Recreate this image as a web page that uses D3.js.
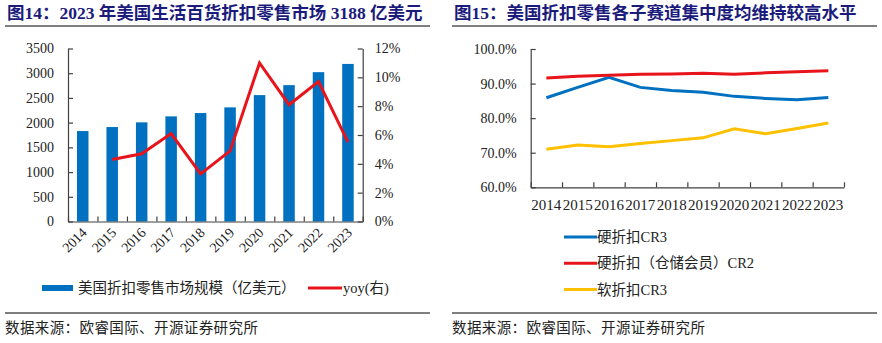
<!DOCTYPE html>
<html>
<head>
<meta charset="utf-8">
<script src="https://cdn.jsdelivr.net/npm/d3@7"></script>
<style>
  html, body { margin: 0; padding: 0; background: #fff; }
  svg { display: block; }
  .num { font-family: "Liberation Serif", "Times New Roman", serif; }
  .cjk { font-family: "Liberation Serif", "Noto Sans CJK SC", serif; }
</style>
</head>
<body>
<svg id="chart" width="882" height="343"></svg>
<script>
// 年份
const years = ['2014', '2015', '2016', '2017', '2018', '2019', '2020', '2021', '2022', '2023'];

// 图14：美国折扣零售市场规模（亿美元）与同比增速（%）
const marketSize = [1830, 1911, 2006, 2127, 2194, 2309, 2557, 2759, 3021, 3188];
const yoy = [null, 4.3, 4.7, 6.1, 3.3, 4.9, 11.0, 8.1, 9.7, 5.5];
const sizeTicks = [0, 500, 1000, 1500, 2000, 2500, 3000, 3500];
const yoyTicks = [0, 2, 4, 6, 8, 10, 12];

// 图15：各子赛道集中度（%）
const hardCR3 = [85.9, 88.9, 91.8, 88.9, 88.0, 87.5, 86.3, 85.7, 85.3, 86.0];
const clubCR2 = [91.6, 92.1, 92.4, 92.7, 92.8, 93.0, 92.7, 93.1, 93.4, 93.7];
const softCR3 = [71.0, 72.2, 71.7, 72.7, 73.5, 74.3, 76.9, 75.5, 77.0, 78.6];
const crTicks = [60, 70, 80, 90, 100];

const BLUE = '#0070c0', RED = '#e8141c', YELLOW = '#ffc000';
const TITLE = '#1b1b7c', AXIS = '#404040';

const svg = d3.select('#chart');

// 标题、分隔线、数据来源
function frame(x0, x1, title) {
  svg.append('text').attr('class', 'cjk').attr('x', x0 + 2).attr('y', 19)
    .attr('font-size', 17.5).attr('font-weight', 'bold').attr('fill', TITLE).text(title);
  svg.append('line').attr('x1', x0).attr('x2', x1).attr('y1', 26).attr('y2', 26)
    .attr('stroke', '#000').attr('stroke-width', 1.2);
  svg.append('line').attr('x1', x0).attr('x2', x1).attr('y1', 313).attr('y2', 313)
    .attr('stroke', '#000').attr('stroke-width', 1.2);
  svg.append('text').attr('class', 'cjk').attr('x', x0).attr('y', 333)
    .attr('font-size', 14.5).attr('letter-spacing', 0.4).attr('fill', '#222')
    .text('数据来源：欧睿国际、开源证券研究所');
}

function styleAxis(g) {
  g.select('.domain').attr('stroke', AXIS).attr('stroke-width', 1.2);
  g.selectAll('.tick line').attr('stroke', AXIS).attr('stroke-width', 1.2);
  g.selectAll('text').attr('class', 'num').attr('font-size', 14).attr('fill', '#222');
}

// ---------- 图14 ----------
frame(5, 430, '图14：2023 年美国生活百货折扣零售市场 3188 亿美元');
{
  const L = 68, R = 362.7, T = 48.5, B = 221.5;

  const x = d3.scaleBand().domain(years).range([L, R]).paddingInner(0.61).paddingOuter(0.305);
  const xc = d3.scaleBand().domain(years).range([L, R]);
  const y = d3.scaleLinear().domain([0, 3500]).range([B, T]);
  const y2 = d3.scaleLinear().domain([0, 12]).range([B, T]);

  svg.selectAll('.bar').data(marketSize).enter().append('rect')
    .attr('x', (d, i) => x(years[i]))
    .attr('y', d => y(d))
    .attr('width', x.bandwidth())
    .attr('height', d => B - y(d))
    .attr('fill', BLUE);

  const line = d3.line()
    .defined(d => d != null)
    .x((d, i) => xc(years[i]) + xc.bandwidth() / 2)
    .y(d => y2(d));
  svg.append('path').datum(yoy).attr('d', line)
    .attr('fill', 'none').attr('stroke', RED).attr('stroke-width', 3)
    .attr('stroke-linejoin', 'miter');

  svg.append('g').attr('transform', `translate(${L},0)`)
    .call(d3.axisLeft(y).tickValues(sizeTicks).tickSize(-5).tickSizeOuter(0).tickPadding(14)
      .tickFormat(d3.format('d')))
    .call(styleAxis);

  svg.append('g').attr('transform', `translate(${R},0)`)
    .call(d3.axisRight(y2).tickValues(yoyTicks).tickSize(-5).tickSizeOuter(0).tickPadding(12)
      .tickFormat(d => d + '%'))
    .call(styleAxis);

  // 底部轴：刻度位于类别分界处
  const xb = d3.scaleLinear().domain([0, years.length]).range([L, R]);
  svg.append('g').attr('transform', `translate(0,${B})`)
    .call(d3.axisBottom(xb).tickValues(d3.range(0, years.length + 1)).tickSize(-5)
      .tickSizeOuter(0).tickFormat(''))
    .call(styleAxis);

  svg.selectAll('.xlab1').data(years).enter().append('text')
    .attr('class', 'num').attr('font-size', 14).attr('fill', '#222')
    .attr('text-anchor', 'end')
    .attr('transform', d => `translate(${xc(d) + xc.bandwidth() / 2 + 5},${B + 12}) rotate(-45)`)
    .text(d => d);

  // 图例
  svg.append('rect').attr('x', 42).attr('y', 285).attr('width', 31).attr('height', 6).attr('fill', BLUE);
  svg.append('text').attr('class', 'cjk').attr('x', 78).attr('y', 293)
    .attr('font-size', 14.5).attr('fill', '#222').text('美国折扣零售市场规模（亿美元）');
  svg.append('line').attr('x1', 308).attr('x2', 342).attr('y1', 288).attr('y2', 288)
    .attr('stroke', RED).attr('stroke-width', 3);
  svg.append('text').attr('class', 'cjk').attr('x', 343).attr('y', 293)
    .attr('font-size', 14.5).attr('fill', '#222').text('yoy(右)');
}

// ---------- 图15 ----------
frame(452, 877, '图15：美国折扣零售各子赛道集中度均维持较高水平');
{
  const L = 530.7, R = 844, T = 49, B = 187.3;

  const x = d3.scaleBand().domain(years).range([L, R]);
  const y = d3.scaleLinear().domain([60, 100]).range([B, T]);

  const line = d3.line()
    .x((d, i) => x(years[i]) + x.bandwidth() / 2)
    .y(d => y(d));

  const series = [
    { name: '硬折扣CR3', values: hardCR3, color: BLUE },
    { name: '硬折扣（仓储会员）CR2', values: clubCR2, color: RED },
    { name: '软折扣CR3', values: softCR3, color: YELLOW }
  ];

  svg.selectAll('.cr').data(series).enter().append('path')
    .attr('d', d => line(d.values))
    .attr('fill', 'none').attr('stroke', d => d.color).attr('stroke-width', 3);

  svg.append('g').attr('transform', `translate(${L},0)`)
    .call(d3.axisLeft(y).tickValues(crTicks).tickSize(-5).tickSizeOuter(0).tickPadding(14)
      .tickFormat(d => d.toFixed(1) + '%'))
    .call(styleAxis);

  const xb = d3.scaleLinear().domain([0, years.length]).range([L, R]);
  svg.append('g').attr('transform', `translate(0,${B})`)
    .call(d3.axisBottom(xb).tickValues(d3.range(0, years.length + 1)).tickSize(-5)
      .tickSizeOuter(0).tickFormat(''))
    .call(styleAxis);

  svg.selectAll('.xlab2').data(years).enter().append('text')
    .attr('class', 'num').attr('font-size', 15).attr('fill', '#222')
    .attr('text-anchor', 'middle')
    .attr('x', d => x(d) + x.bandwidth() / 2)
    .attr('y', 210)
    .text(d => d);

  // 图例
  const leg = svg.selectAll('.leg2').data(series).enter().append('g')
    .attr('transform', (d, i) => `translate(564,${237 + i * 26.3})`);
  leg.append('line').attr('x1', 0).attr('x2', 33).attr('stroke', d => d.color).attr('stroke-width', 3);
  leg.append('text').attr('class', 'cjk').attr('x', 33).attr('y', 5)
    .attr('font-size', 14.5).attr('fill', '#222').text(d => d.name);
}
</script>
</body>
</html>
